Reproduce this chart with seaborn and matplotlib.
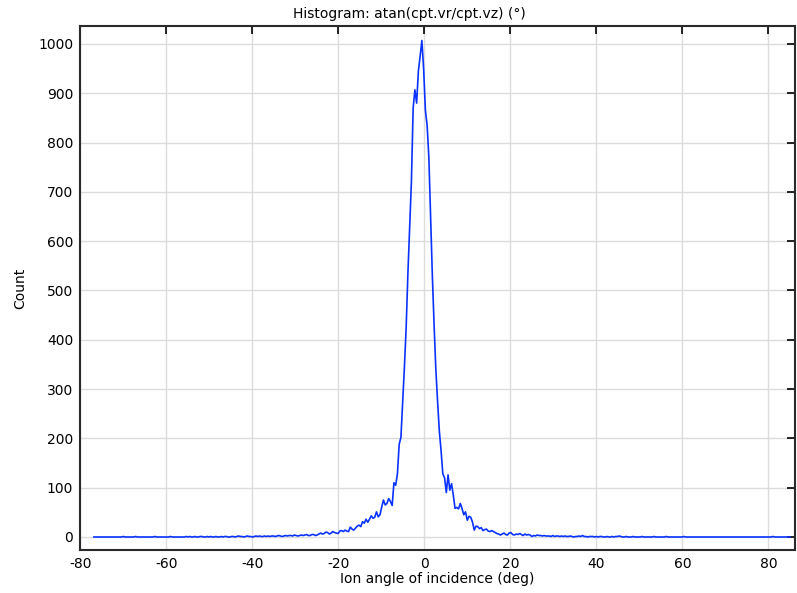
import matplotlib
matplotlib.use("Agg")
import matplotlib.pyplot as plt
import numpy as np
import pandas as pd
import seaborn as sns

# histogram of ion angle of incidence, 400 bins
bin_start = -76.9
bin_width = 0.406

left_tail = [
    0, 0, 0, 0, 0, 0, 0, 0, 0, 0, 0, 0, 0, 0, 0, 0,
    0, 1, 0, 0, 0, 0, 0, 0, 1, 0, 0, 0, 0, 0, 0,
    0, 0, 0, 0, 1, 0, 0, 0, 0, 0, 0, 0, 0, 1, 0, 0, 0, 0, 0, 0, 0, 0, 1, 0,
    1, 0, 0, 1, 0, 0, 1, 1, 0, 0, 1, 0, 1, 0, 0, 1, 0, 0, 1, 0, 1, 1, 0, 0, 1,
    1, 0, 1, 2, 1, 1, 0, 1, 2, 1, 1, 0, 1, 2, 1, 2, 1, 1, 2, 1, 2,
    1, 2, 2, 1, 2, 3, 2, 1, 2, 3, 2, 3, 3, 2, 4, 3, 2, 3, 4, 3, 4, 5, 3,
]
core = [
    3, 5, 5, 3, 4, 6, 8, 6, 7, 10,
    9, 6, 8, 11, 9, 8, 7, 12, 13, 11,
    14, 12, 11, 20, 16, 14, 18, 22, 24, 21,
    31, 28, 36, 30, 36, 43, 38, 40, 51, 41,
    45, 61, 75, 65, 68, 78, 72, 64, 110, 105,
    128, 188, 202, 272, 345, 425, 535,
    625, 720, 870, 907, 880, 945, 975, 1007, 950, 866,
    835, 770, 650, 530, 430, 340, 275, 215, 175,
    128, 120, 90, 126, 95, 108, 85, 58, 60, 57,
    68, 58, 45, 51, 34, 42, 40, 30, 14, 22,
    21, 17, 19, 13, 15, 16, 12, 11, 13, 11,
    9, 7, 6, 4, 6, 8, 5, 4, 8, 9,
    5, 4, 6, 5, 7,
]
right_tail = [
    5, 3, 6, 4, 5, 4, 1, 3, 2, 4, 3, 3, 2, 3, 2, 2, 2, 1, 3, 1, 2, 2, 1, 2, 1, 2,
    1, 1, 2, 1, 0, 1, 1, 2, 1, 3, 1, 1, 0, 1, 1, 1, 0, 1, 0, 1, 1, 0, 0, 1, 0, 0, 1, 0, 1, 1,
    2, 1, 0, 0, 1, 0, 0, 0, 1, 0, 0, 0, 0, 1, 0, 0, 0, 0, 0, 0, 1, 0, 0, 0,
    0, 0, 0, 1, 0, 0, 0, 0, 0, 0, 0, 0, 0, 1, 0, 0,
    0, 0, 0, 0, 0, 0, 0, 0, 0, 0, 0, 0, 0, 0, 0, 0, 0, 0, 0, 0,
    0, 0, 0, 0, 0, 0, 0, 0, 0, 0, 0, 0, 0, 0, 0, 0, 0, 0, 0, 0,
    0, 0, 0, 0, 0, 0, 0, 0, 1, 0, 0, 0, 0, 0, 0, 0, 0, 0, 0,
]

counts = left_tail + core + right_tail
centers = bin_start + bin_width * np.arange(len(counts))
df = pd.DataFrame({"angle": centers, "count": counts})

sns.set_style("white")
plt.rcParams["font.family"] = ["DejaVu Sans"]
plt.rcParams["axes.unicode_minus"] = False
plt.rcParams["text.color"] = "black"
plt.rcParams["axes.labelcolor"] = "black"

fig = plt.figure(figsize=(7.97, 5.93), dpi=100)
ax = fig.add_axes([0.1004, 0.0725, 0.8971, 0.8837])

sns.lineplot(data=df, x="angle", y="count", ax=ax, color="#0a32ff", linewidth=1.2)

ax.set_xlim(-80.07, 86.2)
ax.set_ylim(-26.4, 1036.5)
ax.set_xticks(np.arange(-80, 81, 20))
ax.set_yticks(np.arange(0, 1001, 100))
ax.grid(True, color="#dcdcdc", linewidth=1)
ax.set_axisbelow(True)

for s in ax.spines.values():
    s.set_color("#2a2a2a")
    s.set_linewidth(1.5)

ax.tick_params(direction="in", length=6, width=1.2, top=True, right=True,
               labelsize=10, colors="black", pad=5)

ax.set_title("Histogram: atan(cpt.vr/cpt.vz) (°)", fontsize=10, pad=6, x=0.46,
             color="black")
ax.set_xlabel("Ion angle of incidence (deg)", fontsize=10, labelpad=1, color="black")
ax.set_ylabel("Count", fontsize=10, labelpad=8, color="black")

fig.savefig("out.png", dpi=100)
